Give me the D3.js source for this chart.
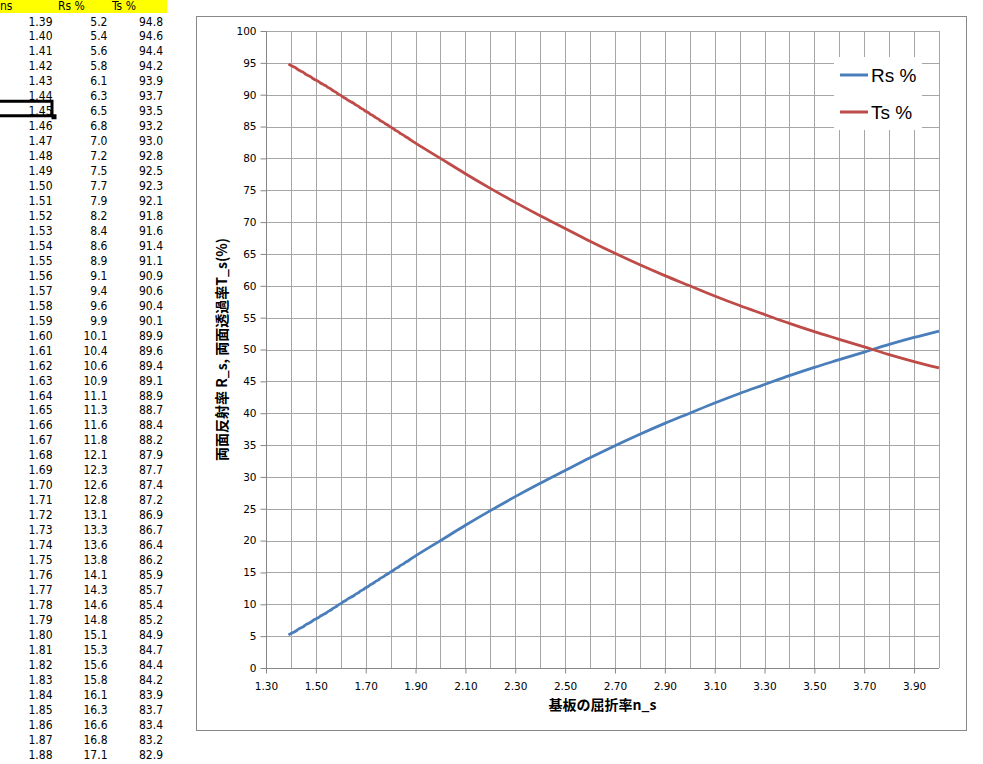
<!DOCTYPE html>
<html>
<head>
<meta charset="utf-8">
<script src="https://cdn.jsdelivr.net/npm/d3@7"></script>
<style>
  body { margin: 0; background: #fff; }
  svg { display: block; }
</style>
</head>
<body>
<div id="chart"></div>
<script>
// sheet columns (ns, Rs %, Ts %) as shown on the left
var nsTable = [1.39,1.40,1.41,1.42,1.43,1.44,1.45,1.46,1.47,1.48,1.49,1.50,1.51,1.52,1.53,1.54,1.55,1.56,1.57,1.58,1.59,
  1.60,1.61,1.62,1.63,1.64,1.65,1.66,1.67,1.68,1.69,1.70,1.71,1.72,1.73,1.74,1.75,1.76,1.77,1.78,1.79,
  1.80,1.81,1.82,1.83,1.84,1.85,1.86,1.87,1.88];
var rsTable = [5.2,5.4,5.6,5.8,6.1,6.3,6.5,6.8,7.0,7.2,7.5,7.7,7.9,8.2,8.4,8.6,8.9,9.1,9.4,9.6,9.9,
  10.1,10.4,10.6,10.9,11.1,11.3,11.6,11.8,12.1,12.3,12.6,12.8,13.1,13.3,13.6,13.8,14.1,14.3,14.6,14.8,
  15.1,15.3,15.6,15.8,16.1,16.3,16.6,16.8,17.1];
var tsTable = [94.8,94.6,94.4,94.2,93.9,93.7,93.5,93.2,93.0,92.8,92.5,92.3,92.1,91.8,91.6,91.4,91.1,90.9,90.6,90.4,90.1,
  89.9,89.6,89.4,89.1,88.9,88.7,88.4,88.2,87.9,87.7,87.4,87.2,86.9,86.7,86.4,86.2,85.9,85.7,85.4,85.2,
  84.9,84.7,84.4,84.2,83.9,83.7,83.4,83.2,82.9];

// rest of the curve
var nsTail = [1.9,2.0,2.1,2.2,2.3,2.4,2.5,2.6,2.7,2.8,2.9,3.0,3.1,3.2,3.3,3.4,3.5,3.6,3.7,3.8,3.9,4.0];
var rsTail = [17.6,20.0,22.4,24.7,26.9,29.0,31.0,33.0,34.9,36.7,38.4,40.0,41.6,43.1,44.5,45.9,47.2,48.4,49.6,50.8,51.9,52.9];
var tsTail = [82.4,80.0,77.6,75.3,73.1,71.0,69.0,67.0,65.1,63.3,61.6,60.0,58.4,56.9,55.5,54.1,52.8,51.6,50.4,49.2,48.1,47.1];

var headers = ["ns", "Rs %", "Ts %"];
var seriesNames = ["Rs %", "Ts %"];
var seriesColors = ["#4a7ebb", "#be4b48"];
var xTicks = [1.30,1.50,1.70,1.90,2.10,2.30,2.50,2.70,2.90,3.10,3.30,3.50,3.70,3.90];

var svg = d3.select("#chart").append("svg")
    .attr("width", 983)
    .attr("height", 764);

// ---- spreadsheet part ----
var cellFont = "'Liberation Sans Narrow', 'Arial Narrow', 'DejaVu Sans Condensed', sans-serif";
svg.append("rect")
    .attr("x", 0).attr("y", 0)
    .attr("width", 167).attr("height", 13)
    .attr("fill", "#ffff00");

var hdrX = [0, 58, 112];
svg.selectAll("text.hdr").data(headers).enter().append("text")
    .attr("class", "hdr")
    .attr("x", function(d, i){ return hdrX[i]; })
    .attr("y", 10)
    .attr("font-family", cellFont)
    .attr("font-size", 12)
    .text(function(d){ return d; });

var rowY = function(i){ return 25.5 + i * 14.96; };
var cols = [
  {vals: nsTable, right: 52.5, fmt: function(v){ return v.toFixed(2); }},
  {vals: rsTable, right: 107.5, fmt: function(v){ return v.toFixed(1); }},
  {vals: tsTable, right: 163, fmt: function(v){ return v.toFixed(1); }}
];
cols.forEach(function(c){
  svg.append("g").selectAll("text").data(c.vals).enter().append("text")
      .attr("x", c.right)
      .attr("y", function(d, i){ return rowY(i); })
      .attr("text-anchor", "end")
      .attr("font-family", cellFont)
      .attr("font-size", 12)
      .attr("fill", "#000")
      .text(c.fmt);
});

// active cell (1.45)
var sel = nsTable.indexOf(1.45);
svg.append("rect")
    .attr("x", -4).attr("y", rowY(sel) - 14)
    .attr("width", 56).attr("height", 14.5)
    .attr("fill", "none")
    .attr("stroke", "#000")
    .attr("stroke-width", 3);
svg.append("rect")
    .attr("x", 51.5).attr("y", rowY(sel) - 1)
    .attr("width", 5).attr("height", 5)
    .attr("fill", "#000");

// ---- chart part ----
svg.append("rect")
    .attr("x", 196.5).attr("y", 16.5)
    .attr("width", 770).attr("height", 714)
    .attr("fill", "#fff")
    .attr("stroke", "#888")
    .attr("stroke-width", 1);

var plotL = 266, plotT = 31, plotR = 939, plotB = 668;

var xScale = d3.scaleLinear().domain([1.3, 4.0]).range([plotL, plotR]);
var yScale = d3.scaleLinear().domain([0, 100]).range([plotB, plotT]);

var grid = svg.append("g").attr("stroke", "#a6a6a6").attr("stroke-width", 1);
grid.selectAll("line.v").data(d3.range(14, 41).map(function(k){ return k / 10; })).enter().append("line")
    .attr("x1", function(d){ return Math.round(xScale(d)) + 0.5; })
    .attr("x2", function(d){ return Math.round(xScale(d)) + 0.5; })
    .attr("y1", plotT).attr("y2", plotB);
grid.selectAll("line.h").data(d3.range(5, 101, 5)).enter().append("line")
    .attr("y1", function(d){ return Math.round(yScale(d)) + 0.5; })
    .attr("y2", function(d){ return Math.round(yScale(d)) + 0.5; })
    .attr("x1", plotL).attr("x2", plotR);

var xAxis = d3.axisBottom(xScale)
    .tickValues(xTicks)
    .tickSize(5)
    .tickPadding(9)
    .tickFormat(d3.format(".2f"));
var yAxis = d3.axisLeft(yScale)
    .tickValues(d3.range(0, 101, 5))
    .tickSize(6)
    .tickPadding(4);

var gx = svg.append("g")
    .attr("transform", "translate(0," + (plotB + 0.5) + ")")
    .call(xAxis);
var gy = svg.append("g")
    .attr("transform", "translate(" + (plotL + 0.5) + ",0)")
    .call(yAxis);
gx.select(".domain").attr("d", "M" + plotL + ",0H" + plotR);
gy.select(".domain").attr("d", "M0," + plotT + "V" + plotB);
[gx, gy].forEach(function(g){
  g.selectAll("path, line").attr("stroke", "#868686");
  g.selectAll("text")
      .attr("font-family", "'DejaVu Sans', Verdana, sans-serif")
      .attr("font-size", 10.5)
      .attr("fill", "#000");
});

// series
var nsAll = nsTable.concat(nsTail);
var seriesVals = [rsTable.concat(rsTail), tsTable.concat(tsTail)];

var line = d3.line()
    .x(function(d){ return xScale(d[0]); })
    .y(function(d){ return yScale(d[1]); })
    .curve(d3.curveMonotoneX);

seriesVals.forEach(function(vals, k){
  svg.append("path")
      .datum(nsAll.map(function(n, i){ return [n, vals[i]]; }))
      .attr("d", line)
      .attr("fill", "none")
      .attr("stroke", seriesColors[k])
      .attr("stroke-width", 2.8)
      .attr("stroke-linejoin", "round");
});

// legend
svg.append("rect")
    .attr("x", 834).attr("y", 57)
    .attr("width", 88).attr("height", 73)
    .attr("fill", "#fff");
seriesNames.forEach(function(name, k){
  var ly = 75 + k * 37;
  svg.append("line")
      .attr("x1", 840).attr("x2", 868)
      .attr("y1", ly).attr("y2", ly)
      .attr("stroke", seriesColors[k])
      .attr("stroke-width", 3);
  svg.append("text")
      .attr("x", 871).attr("y", ly + 7)
      .attr("font-family", "'Liberation Sans', Arial, sans-serif")
      .attr("font-size", 19)
      .attr("fill", "#000")
      .text(name);
});

// axis titles
var cjk = "'Noto Sans CJK JP', 'Noto Sans CJK SC', sans-serif";
svg.append("text")
    .attr("x", (plotL + plotR) / 2)
    .attr("y", 710)
    .attr("text-anchor", "middle")
    .attr("font-family", cjk)
    .attr("font-weight", "bold")
    .attr("font-size", 14)
    .text("基板の屈折率n_s");
svg.append("text")
    .attr("transform", "translate(227," + ((plotT + plotB) / 2) + ") rotate(-90)")
    .attr("text-anchor", "middle")
    .attr("font-family", cjk)
    .attr("font-weight", "bold")
    .attr("font-size", 14)
    .text("両面反射率 R_s, 両面透過率T_s(%)");
</script>
</body>
</html>
